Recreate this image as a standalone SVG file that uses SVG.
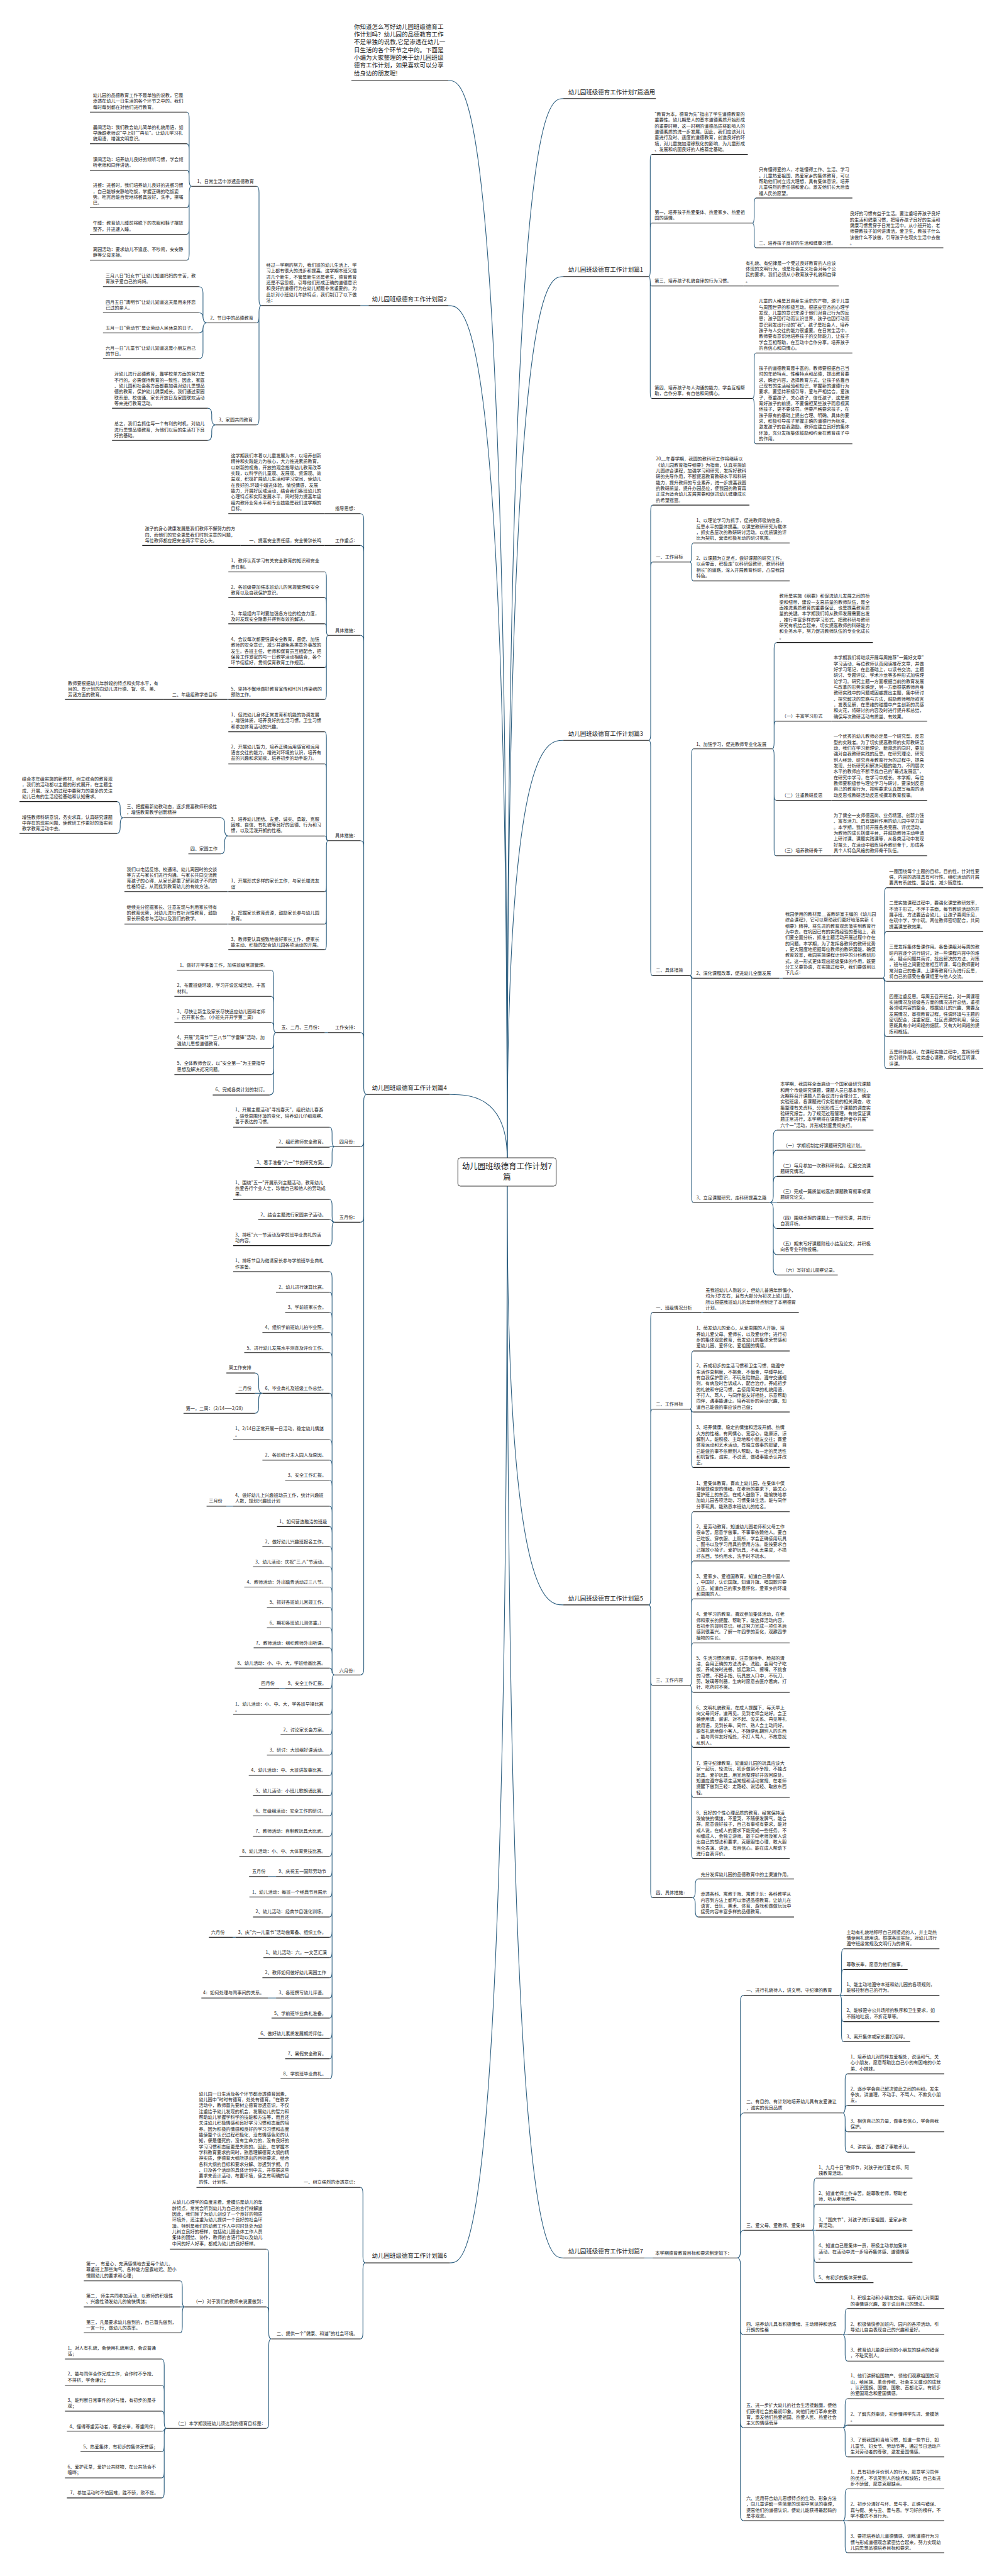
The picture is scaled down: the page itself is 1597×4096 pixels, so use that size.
<svg xmlns="http://www.w3.org/2000/svg" width="1597" height="4096" viewBox="0 0 1597 4096">
<style>
text{font-family:"Noto Sans CJK SC","Noto Sans",sans-serif;fill:#222}
.t{font-size:7.2px}
.p{font-size:9.5px}
.c{font-size:12.4px}
.u{stroke:#1b1b1b;stroke-width:1.1;fill:none}
.k{stroke:#2d5f80;stroke-width:1.1;fill:none}
</style>
<rect width="1597" height="4096" fill="#fff"/>
<g id="connectors">
<path class="k" d="M806.7 1841C806.7 128 741.1 128 713 128"/>
<path class="k" d="M806.7 1841C806.7 485.9 741.1 485.9 713 485.9"/>
<path class="k" d="M806.7 1841C806.7 1740.2 742.9 1740.2 715.5 1740.2"/>
<path class="k" d="M806.7 1841C806.7 156.8 869.3 156.8 896.1 156.8"/>
<path class="k" d="M806.7 1841C806.7 439.7 869.3 439.7 896.1 439.7"/>
<path class="k" d="M806.7 1841C806.7 1177.2 869.3 1177.2 896.1 1177.2"/>
<path class="k" d="M806.7 1886C806.7 2551.9 869.3 2551.9 896.1 2551.9"/>
<path class="k" d="M806.7 1886C806.7 3598.1 742.9 3598.1 715.5 3598.1"/>
<path class="k" d="M806.7 1886C806.7 3590.2 869.3 3590.2 896.1 3590.2"/>
<path class="k" d="M586.3 485.9H573.4"/>
<path class="k" d="M415.9 485.9Q412 485.9 412 475.9V306.2Q412 296.2 408.1 296.2M415.9 485.9Q412 485.9 412 495.9V503.3Q412 513.3 408.1 513.3M415.9 485.9Q412 485.9 412 495.9V665.6Q412 675.6 408.1 675.6"/>
<path class="k" d="M304.8 296.2Q300.9 296.2 300.9 286.2V188.3Q300.9 178.3 297 178.3M300.9 238.6Q300.9 228.6 297 228.6M300.9 280.6Q300.9 270.6 297 270.6M304.8 296.2Q300.9 296.2 300.9 306.2V403.7Q300.9 413.7 297 413.7M300.9 320Q300.9 330 297 330M300.9 362.5Q300.9 372.5 297 372.5"/>
<path class="k" d="M329.6 513.3Q322.9 513.3 322.9 503.3V465.7Q322.9 455.7 316.2 455.7M322.9 505.3Q322.9 497.3 316.2 497.3M329.6 513.3Q322.9 513.3 322.9 523.3V560.5Q322.9 570.5 316.2 570.5M322.9 521.3Q322.9 529.3 316.2 529.3"/>
<path class="k" d="M343 675.6Q336.8 675.6 336.8 665.6V659.1Q336.8 649.1 330.6 649.1M343 675.6Q336.8 675.6 336.8 685.6V690.3Q336.8 700.3 330.6 700.3"/>
<path class="k" d="M1031.9 439.7Q1034.3 439.7 1034.3 429.7V255.5Q1034.3 245.5 1036.6 245.5M1034.3 364.7Q1034.3 354.7 1036.6 354.7M1031.9 439.7Q1034.3 439.7 1034.3 449.7V623.5Q1034.3 633.5 1036.6 633.5M1034.3 447.2Q1034.3 454.8 1036.6 454.8"/>
<path class="k" d="M1196.7 354.7Q1199.6 354.7 1199.6 344.7V324.9Q1199.6 314.9 1202.4 314.9M1196.7 354.7Q1199.6 354.7 1199.6 364.7V384Q1199.6 394 1202.4 394"/>
<path class="k" d="M1196.7 633.5Q1199.6 633.5 1199.6 623.5V571.3Q1199.6 561.3 1202.4 561.3M1196.7 633.5Q1199.6 633.5 1199.6 643.5V695.8Q1199.6 705.8 1202.4 705.8"/>
<path class="k" d="M1031.9 1177.2Q1035 1177.2 1035 1167.2V813.1Q1035 803.1 1038.1 803.1M1035 903.6Q1035 893.6 1038.1 893.6M1031.9 1177.2Q1035 1177.2 1035 1187.2V1541.4Q1035 1551.4 1038.1 1551.4"/>
<path class="k" d="M1097.5 893.6Q1100.1 893.6 1100.1 883.6V873.4Q1100.1 863.4 1102.7 863.4M1097.5 893.6Q1100.1 893.6 1100.1 903.6V913.7Q1100.1 923.7 1102.7 923.7"/>
<path class="k" d="M1097.5 1551.4Q1100.1 1551.4 1100.1 1541.4V1200.7Q1100.1 1190.7 1102.7 1190.7M1097.5 1551.4Q1100.1 1551.4 1100.1 1553.4Q1100.1 1555.4 1102.7 1555.4M1097.5 1551.4Q1100.1 1551.4 1100.1 1561.4V1902Q1100.1 1912 1102.7 1912"/>
<path class="k" d="M1228.2 1190.7Q1231.3 1190.7 1231.3 1180.7V1031.6Q1231.3 1021.6 1235.5 1021.6M1231.3 1156.6Q1231.3 1146.6 1234.4 1146.6M1228.2 1190.7Q1231.3 1190.7 1231.3 1200.7V1350.7Q1231.3 1360.7 1234.4 1360.7M1231.3 1262.5Q1231.3 1272.5 1234.4 1272.5"/>
<path class="k" d="M1239.6 1555.4H1244.8"/>
<path class="k" d="M1403.9 1555.4Q1407 1555.4 1407 1545.4V1421.6Q1407 1411.6 1410.1 1411.6M1407 1491.1Q1407 1481.1 1410.1 1481.1M1403.9 1555.4Q1407 1555.4 1407 1557.8Q1407 1560.2 1410.1 1560.2M1403.9 1555.4Q1407 1555.4 1407 1565.4V1689.1Q1407 1699.1 1410.1 1699.1M1407 1638.5Q1407 1648.5 1410.1 1648.5"/>
<path class="k" d="M1224.1 1912Q1230 1912 1230 1902V1807Q1230 1797 1236 1797M1230 1838.9Q1230 1828.9 1236 1828.9M1230 1880.4Q1230 1870.4 1236 1870.4M1224.1 1912H1236M1224.1 1912Q1230 1912 1230 1922V2017.3Q1230 2027.3 1236 2027.3M1230 1943.5Q1230 1953.5 1236 1953.5M1230 1985Q1230 1995 1236 1995"/>
<path class="k" d="M583.8 1740.2Q578.6 1740.2 578.6 1730.2V826.7Q578.6 816.7 573.4 816.7M578.6 877.4Q578.6 867.4 573.4 867.4M578.6 1020.3Q578.6 1010.3 573.4 1010.3M578.6 1346.7Q578.6 1336.7 573.4 1336.7M578.6 1651.9Q578.6 1641.9 573.4 1641.9M583.8 1740.2Q578.6 1740.2 578.6 1750.2V2653.3Q578.6 2663.3 573.4 2663.3M578.6 1813.3Q578.6 1823.3 573.4 1823.3M578.6 1933.4Q578.6 1943.4 573.4 1943.4"/>
<path class="k" d="M521.8 1010.3Q519.2 1010.3 519.2 1000.3V919.3Q519.2 909.3 516.6 909.3M519.2 960.4Q519.2 950.4 516.6 950.4M519.2 1001.1Q519.2 991.9 516.6 991.9M521.8 1010.3Q519.2 1010.3 519.2 1020.3V1102.1Q519.2 1112.1 516.6 1112.1M519.2 1051.4Q519.2 1061.4 516.6 1061.4"/>
<path class="k" d="M363.2 1112.1H361.6M363.2 1417.7H361.6M363.2 1469.3H361.6M521.8 1641.9H516.6"/>
<path class="k" d="M521.8 1336.7Q519.2 1336.7 519.2 1326.7V1173.6Q519.2 1163.6 516.6 1163.6M519.2 1224.8Q519.2 1214.8 516.6 1214.8M521.8 1336.7Q519.2 1336.7 519.2 1333Q519.2 1329.3 516.6 1329.3M521.8 1336.7Q519.2 1336.7 519.2 1346.7V1499.9Q519.2 1509.9 516.6 1509.9M519.2 1407.7Q519.2 1417.7 516.6 1417.7M519.2 1459.3Q519.2 1469.3 516.6 1469.3"/>
<path class="k" d="M363.2 1329.3Q357.3 1329.3 357.3 1319.3V1310.4Q357.3 1300.4 351.3 1300.4M363.2 1329.3Q357.3 1329.3 357.3 1339.3V1347.7Q357.3 1357.7 351.3 1357.7"/>
<path class="k" d="M196.3 1300.4Q191.2 1300.4 191.2 1290.4V1284.6Q191.2 1274.6 186 1274.6M196.3 1300.4Q191.2 1300.4 191.2 1310.4V1315.3Q191.2 1325.3 186 1325.3"/>
<path class="k" d="M439.1 1641.9Q435.3 1641.9 435.3 1631.9V1552.7Q435.3 1542.7 431.4 1542.7M435.3 1594.2Q435.3 1584.2 431.4 1584.2M435.3 1633.8Q435.3 1625.7 431.4 1625.7M439.1 1641.9Q435.3 1641.9 435.3 1651.9V1731.1Q435.3 1741.1 428.8 1741.1M435.3 1657.2Q435.3 1667.2 431.4 1667.2M435.3 1698.8Q435.3 1708.8 431.4 1708.8"/>
<path class="k" d="M532.1 1823.3Q528.2 1823.3 528.2 1813.3V1802.2Q528.2 1792.2 524.3 1792.2M532.1 1823.3H524.3M532.1 1823.3Q528.2 1823.3 528.2 1833.3V1846.5Q528.2 1856.5 524.3 1856.5"/>
<path class="k" d="M532.1 1943.4Q528.2 1943.4 528.2 1933.4V1917.2Q528.2 1907.2 524.3 1907.2M532.1 1943.4Q528.2 1943.4 528.2 1941.5Q528.2 1939.5 524.3 1939.5M532.1 1943.4Q528.2 1943.4 528.2 1953.4V1970.6Q528.2 1980.6 524.3 1980.6"/>
<path class="k" d="M532.1 2663.3Q528.2 2663.3 528.2 2653.3V2032.1Q528.2 2022.1 524.3 2022.1M528.2 2064.6Q528.2 2054.6 524.3 2054.6M528.2 2096.5Q528.2 2086.5 524.3 2086.5M528.2 2128.8Q528.2 2118.8 524.3 2118.8M528.2 2160.7Q528.2 2150.7 524.3 2150.7M528.2 2225.4Q528.2 2215.4 524.3 2215.4M528.2 2299.3Q528.2 2289.3 524.3 2289.3M528.2 2331.6Q528.2 2321.6 524.3 2321.6M528.2 2363.5Q528.2 2353.5 524.3 2353.5M528.2 2405Q528.2 2395 524.3 2395M528.2 2437.4Q528.2 2427.4 524.3 2427.4M528.2 2469.3Q528.2 2459.3 524.3 2459.3M528.2 2501.2Q528.2 2491.2 524.3 2491.2M528.2 2533.5Q528.2 2523.5 524.3 2523.5M528.2 2565.8Q528.2 2555.8 524.3 2555.8M528.2 2598.2Q528.2 2588.2 524.3 2588.2M528.2 2630.1Q528.2 2620.1 524.3 2620.1M528.2 2660Q528.2 2652.4 524.3 2652.4M532.1 2663.3Q528.2 2663.3 528.2 2673.3V3295.5Q528.2 3305.5 524.3 3305.5M528.2 2675Q528.2 2684.8 524.3 2684.8M528.2 2716Q528.2 2726 524.3 2726M528.2 2748.3Q528.2 2758.3 524.3 2758.3M528.2 2780.7Q528.2 2790.7 524.3 2790.7M528.2 2813Q528.2 2823 524.3 2823M528.2 2844.9Q528.2 2854.9 524.3 2854.9M528.2 2877.3Q528.2 2887.3 524.3 2887.3M528.2 2909.6Q528.2 2919.6 524.3 2919.6M528.2 2941.5Q528.2 2951.5 524.3 2951.5M528.2 2973.8Q528.2 2983.8 524.3 2983.8M528.2 3006.2Q528.2 3016.2 524.3 3016.2M528.2 3038.1Q528.2 3048.1 524.3 3048.1M528.2 3070.4Q528.2 3080.4 524.3 3080.4M528.2 3102.7Q528.2 3112.7 524.3 3112.7M528.2 3134.7Q528.2 3144.7 524.3 3144.7M528.2 3167Q528.2 3177 524.3 3177M528.2 3198.9Q528.2 3208.9 524.3 3208.9M528.2 3231.2Q528.2 3241.2 524.3 3241.2M528.2 3263.6Q528.2 3273.6 524.3 3273.6"/>
<path class="k" d="M417.4 2215.4Q411.5 2215.4 411.5 2205.4V2193.1Q411.5 2183.1 405.5 2183.1M417.4 2215.4H405.5M417.4 2215.4Q411.5 2215.4 411.5 2225.4V2237.3Q411.5 2247.3 405.5 2247.3"/>
<path class="k" d="M370.9 2395H360.1M453.6 2684.8H444.3M439.1 2983.8H426.2M374.5 3080.4H370M439.1 3177H426.2"/>
<path class="k" d="M581.2 3598.1Q577.3 3598.1 577.3 3588.1V3488.1Q577.3 3478.1 573.4 3478.1M581.2 3598.1Q577.3 3598.1 577.3 3608.1V3709Q577.3 3719 573.4 3719"/>
<path class="k" d="M431.4 3719Q427.5 3719 427.5 3709V3586.3Q427.5 3576.3 423.6 3576.3M427.5 3678.1Q427.5 3668.1 423.6 3668.1M431.4 3719Q427.5 3719 427.5 3729V3851.2Q427.5 3861.2 423.6 3861.2"/>
<path class="k" d="M293.4 3668.1Q290 3668.1 290 3658.1V3636.8Q290 3626.8 286.7 3626.8M293.4 3668.1H286.7M293.4 3668.1Q290 3668.1 290 3678.1V3699.3Q290 3709.3 286.7 3709.3"/>
<path class="k" d="M265 3861.2Q261.2 3861.2 261.2 3851.2V3761Q261.2 3751 257.3 3751M261.2 3802.7Q261.2 3792.7 257.3 3792.7M261.2 3843.9Q261.2 3833.9 257.3 3833.9M265 3861.2Q261.2 3861.2 261.2 3863.5Q261.2 3865.8 257.3 3865.8M265 3861.2Q261.2 3861.2 261.2 3871.2V3961.9Q261.2 3971.9 257.3 3971.9M261.2 3888.3Q261.2 3898.3 257.3 3898.3M261.2 3930Q261.2 3940 257.3 3940"/>
<path class="k" d="M1031.9 2551.9Q1035 2551.9 1035 2541.9V2096.9Q1035 2086.9 1038.1 2086.9M1035 2250.8Q1035 2240.8 1038.1 2240.8M1031.9 2551.9Q1035 2551.9 1035 2561.9V3007.5Q1035 3017.5 1038.1 3017.5M1035 2670Q1035 2680 1038.1 2680"/>
<path class="k" d="M1115.6 2086.9H1118.2M1025.2 3590.2H1038.1"/>
<path class="k" d="M1097.5 2240.8Q1100.1 2240.8 1100.1 2230.8V2158.1Q1100.1 2148.1 1102.7 2148.1M1097.5 2240.8Q1100.1 2240.8 1100.1 2243Q1100.1 2245.1 1102.7 2245.1M1097.5 2240.8Q1100.1 2240.8 1100.1 2250.8V2323.4Q1100.1 2333.4 1102.7 2333.4"/>
<path class="k" d="M1097.5 2680Q1100.1 2680 1100.1 2670V2413.8Q1100.1 2403.8 1102.7 2403.8M1100.1 2492Q1100.1 2482 1102.7 2482M1100.1 2552.3Q1100.1 2542.3 1102.7 2542.3M1100.1 2622.2Q1100.1 2612.2 1102.7 2612.2M1097.5 2680Q1100.1 2680 1100.1 2690V2945.4Q1100.1 2955.4 1102.7 2955.4M1100.1 2685Q1100.1 2690.9 1102.7 2690.9M1100.1 2768.4Q1100.1 2778.4 1102.7 2778.4M1100.1 2848Q1100.1 2858 1102.7 2858"/>
<path class="k" d="M1101.2 3017.5Q1105.9 3017.5 1105.9 3007.5V2997.8Q1105.9 2987.8 1110.5 2987.8M1101.2 3017.5Q1105.9 3017.5 1105.9 3027.5V3038.1Q1105.9 3048.1 1110.5 3048.1"/>
<path class="k" d="M1172.5 3590.2Q1177.7 3590.2 1177.7 3580.2V3182.6Q1177.7 3172.6 1182.8 3172.6M1177.7 3369.7Q1177.7 3359.7 1182.8 3359.7M1177.7 3556.2Q1177.7 3546.2 1182.8 3546.2M1172.5 3590.2Q1177.7 3590.2 1177.7 3600.2V3998Q1177.7 4008 1182.8 4008M1177.7 3702.5Q1177.7 3712.5 1182.8 3712.5M1177.7 3850.3Q1177.7 3860.3 1182.8 3860.3"/>
<path class="k" d="M1335.2 3172.6Q1338.6 3172.6 1338.6 3162.6V3108.8Q1338.6 3098.8 1341.9 3098.8M1338.6 3141.5Q1338.6 3131.5 1341.9 3131.5M1335.2 3172.6H1341.9M1335.2 3172.6Q1338.6 3172.6 1338.6 3182.6V3236.5Q1338.6 3246.5 1341.9 3246.5M1338.6 3204.6Q1338.6 3214.6 1341.9 3214.6"/>
<path class="k" d="M1340.4 3359.7Q1344.3 3359.7 1344.3 3349.7V3307.6Q1344.3 3297.6 1348.1 3297.6M1344.3 3353.8Q1344.3 3347.9 1348.1 3347.9M1340.4 3359.7Q1344.3 3359.7 1344.3 3369.7V3412.1Q1344.3 3422.1 1348.1 3422.1M1344.3 3379.7Q1344.3 3389.7 1348.1 3389.7"/>
<path class="k" d="M1291.3 3546.2Q1294.7 3546.2 1294.7 3536.2V3473.3Q1294.7 3463.3 1298 3463.3M1294.7 3515Q1294.7 3505 1298 3505M1291.3 3546.2H1298M1291.3 3546.2Q1294.7 3546.2 1294.7 3556.2V3619.6Q1294.7 3629.6 1298 3629.6M1294.7 3587.2Q1294.7 3597.2 1298 3597.2"/>
<path class="k" d="M1340.4 3712.5Q1344.3 3712.5 1344.3 3702.5V3680.8Q1344.3 3670.8 1348.1 3670.8M1340.4 3712.5H1348.1M1340.4 3712.5Q1344.3 3712.5 1344.3 3722.5V3744.2Q1344.3 3754.2 1348.1 3754.2"/>
<path class="k" d="M1340.4 3860.3Q1344.3 3860.3 1344.3 3850.3V3824Q1344.3 3814 1348.1 3814M1340.4 3860.3Q1344.3 3860.3 1344.3 3858.2Q1344.3 3856.1 1348.1 3856.1M1340.4 3860.3Q1344.3 3860.3 1344.3 3870.3V3896.6Q1344.3 3906.6 1348.1 3906.6"/>
<path class="k" d="M1340.4 4008Q1344.3 4008 1344.3 3998V3967.5Q1344.3 3957.5 1348.1 3957.5M1340.4 4008H1348.1M1340.4 4008Q1344.3 4008 1344.3 4018V4049Q1344.3 4059 1348.1 4059"/>
</g>
<g id="center"><rect x="728.3" y="1841" width="156.4" height="45" rx="4" fill="#fff" stroke="#333" stroke-width="1"/><text class="c" x="806.5" y="1859.1" text-anchor="middle">幼儿园班级德育工作计划7</text><text class="c" x="806.5" y="1875.7" text-anchor="middle">篇</text></g>
<g id="intro"><text class="p" x="563" y="45.5">你知道怎么写好幼儿园班级德育工<tspan x="563" dy="12.34">作计划吗？幼儿园的品德教育工作</tspan><tspan x="563" dy="12.34">不是单独的说教,它是渗透在幼儿一</tspan><tspan x="563" dy="12.34">日生活的各个环节之中的。下面是</tspan><tspan x="563" dy="12.34">小编为大家整理的关于幼儿园班级</tspan><tspan x="563" dy="12.34">德育工作计划，如果喜欢可以分享</tspan><tspan x="563" dy="12.34">给身边的朋友喔!</tspan></text><path class="u" d="M559 128H713"/></g>
<g id="topic0"><text class="p" x="903.8" y="149.7">幼儿园班级德育工作计划7篇通用</text><path class="u" d="M896.1 156.8H1043.3"/></g>
<g id="topic1"><text class="p" x="903.8" y="432.2">幼儿园班级德育工作计划篇1</text><path class="u" d="M896.1 439.7H1031.9"/></g>
<g id="topic2"><text class="p" x="591.5" y="478.8">幼儿园班级德育工作计划篇2</text><path class="u" d="M586.3 485.9H713"/></g>
<g id="topic3"><text class="p" x="903.8" y="1169.7">幼儿园班级德育工作计划篇3</text><path class="u" d="M896.1 1177.2H1031.9"/></g>
<g id="topic4"><text class="p" x="591.5" y="1732.7">幼儿园班级德育工作计划篇4</text><path class="u" d="M583.8 1740.2H715.5"/></g>
<g id="topic5"><text class="p" x="903.8" y="2544.8">幼儿园班级德育工作计划篇5</text><path class="u" d="M896.1 2551.9H1031.9"/></g>
<g id="topic6"><text class="p" x="591.5" y="3589.9">幼儿园班级德育工作计划篇6</text><path class="u" d="M581.2 3598.1H715.5"/></g>
<g id="topic7"><text class="p" x="903.8" y="3583">幼儿园班级德育工作计划篇7</text><path class="u" d="M896.1 3590.2H1025.2"/></g>

<g id="p2">
<g id="p2-a"><text class="t" x="423.6" y="424">经过一学期的努力，我们班的幼儿生活上、学<tspan x="423.6" dy="9.33">习上都有很大的进步和提高。这学期本班又插</tspan><tspan x="423.6" dy="9.33">进几个新生，不管是新生还是老生，德育教育</tspan><tspan x="423.6" dy="9.33">还是不容忽视，引导他们形成正确的道德意识</tspan><tspan x="423.6" dy="9.33">和良好的道德行为在幼儿期是非常重要的。为</tspan><tspan x="423.6" dy="9.33">此针对小班幼儿年龄特点，我们制订了以下做</tspan><tspan x="423.6" dy="9.33">法：</tspan></text><path class="u" d="M415.9 485.9H573.4"/></g>
<g id="p2-b"><text class="t" x="313.6" y="290.6">1、日常生活中渗透品德教育</text><path class="u" d="M304.8 296.2H408.1"/></g>
<g id="p2-c"><text class="t" x="334.2" y="507.7">2、节日中的品德教育</text><path class="u" d="M329.6 513.3H408.1"/></g>
<g id="p2-d"><text class="t" x="347.7" y="670">3、家园共同教育</text><path class="u" d="M343 675.6H408.1"/></g>
<g id="p2-e"><text class="t" x="147.7" y="153.9">幼儿园的品德教育工作不是单独的说教，它是<tspan x="147.7" dy="9.33">渗透在幼儿一日生活的各个环节之中的。我们</tspan><tspan x="147.7" dy="9.33">每时每刻都在对他们进行教育。</tspan></text><path class="u" d="M143.1 178.3H297"/></g>
<g id="p2-f"><text class="t" x="147.7" y="204.6">晨间活动：我们教会幼儿简单的礼貌用语，如<tspan x="147.7" dy="9.33">早晚跟老师说"早上好""再见"。让幼儿学习礼</tspan><tspan x="147.7" dy="9.33">貌用语，增强文明意识。</tspan></text><path class="u" d="M143.1 228.6H297"/></g>
<g id="p2-g"><text class="t" x="147.7" y="255.8">课间活动：培养幼儿良好的倾听习惯，学会倾<tspan x="147.7" dy="9.33">听老师和同伴讲话。</tspan></text><path class="u" d="M143.1 270.6H297"/></g>
<g id="p2-h"><text class="t" x="147.7" y="297.4">进餐：进餐时，我们培养幼儿良好的进餐习惯<tspan x="147.7" dy="9.33">，自己能够安静地吃饭，掌握正确的吃饭姿</tspan><tspan x="147.7" dy="9.33">势。吃完后能自觉地将餐具放好，洗手，擦嘴</tspan><tspan x="147.7" dy="9.33">巴。</tspan></text><path class="u" d="M143.1 330H297"/></g>
<g id="p2-i"><text class="t" x="147.7" y="357.3">午睡：教育幼儿睡前将脱下的衣服和鞋子摆放<tspan x="147.7" dy="9.33">整齐，并迅速入睡。</tspan></text><path class="u" d="M143.1 372.5H297"/></g>
<g id="p2-j"><text class="t" x="147.7" y="398.9">离园活动：要求幼儿不追逐、不吵闹，安安静<tspan x="147.7" dy="9.33">静等父母来接。</tspan></text><path class="u" d="M143.1 413.7H297"/></g>
<g id="p2-k"><text class="t" x="167.9" y="441">三月八日"妇女节"让幼儿知道妈妈的辛苦，教<tspan x="167.9" dy="9.33">育孩子爱自己的妈妈。</tspan></text><path class="u" d="M163.8 455.7H316.2"/></g>
<g id="p2-l"><text class="t" x="167.9" y="482.6">四月五日"清明节"让幼儿知道这天是用来怀恋<tspan x="167.9" dy="9.33">已过的亲人。</tspan></text><path class="u" d="M163.8 497.3H316.2"/></g>
<g id="p2-m"><text class="t" x="167.9" y="523.7">五月一日"劳动节"是让劳动人民休息的日子。</text><path class="u" d="M163.8 529.3H316.2"/></g>
<g id="p2-n"><text class="t" x="167.9" y="556.1">六月一日"儿童节"让幼儿知道这是小朋友自己<tspan x="167.9" dy="9.33">的节日。</tspan></text><path class="u" d="M163.8 570.5H316.2"/></g>
<g id="p2-o"><text class="t" x="181.8" y="597.3">对幼儿进行品德教育，靠学校单方面的努力是<tspan x="181.8" dy="9.33">不行的，必需保持教育的一致性。因此，家庭</tspan><tspan x="181.8" dy="9.33">、幼儿园和社会各方面都要加强对幼儿思想品</tspan><tspan x="181.8" dy="9.33">德的教育，保护幼儿健康成长。我们通过家园</tspan><tspan x="181.8" dy="9.33">联系册、校信通、家长开放日及家园联欢活动</tspan><tspan x="181.8" dy="9.33">等来进行教育活动。</tspan></text><path class="u" d="M178.2 649.1H330.6"/></g>
<g id="p2-p"><text class="t" x="181.8" y="676.4">总之，我们会抓住每一个有利的时机，对幼儿<tspan x="181.8" dy="9.33">进行思想品德教育，为他们以后的生活打下良</tspan><tspan x="181.8" dy="9.33">好的基础。</tspan></text><path class="u" d="M178.2 700.3H330.6"/></g>
</g>

<g id="p1">
<g id="p1-a"><text class="t" x="1041.2" y="184.1">"教育为本，德育为先"指出了学生道德教育的<tspan x="1041.2" dy="9.33">重要性。幼儿期是人的基本道德素质开始形成</tspan><tspan x="1041.2" dy="9.33">的重要时期，这一时期的道德品质将影响人的</tspan><tspan x="1041.2" dy="9.33">道德素质的进一步发展。因此，我们应该对儿</tspan><tspan x="1041.2" dy="9.33">童进行及时、适度的道德教育，创造良好的环</tspan><tspan x="1041.2" dy="9.33">境，对儿童施加潜移默化的影响，为儿童形成</tspan><tspan x="1041.2" dy="9.33">、发展和巩固良好的人格奠定基础。</tspan></text><path class="u" d="M1036.6 245.5H1189.5"/></g>
<g id="p1-b"><text class="t" x="1041.2" y="339.9">第一，培养孩子热爱集体、热爱家乡、热爱祖<tspan x="1041.2" dy="9.33">国的感情。</tspan></text><path class="u" d="M1036.6 354.7H1196.7"/></g>
<g id="p1-c"><text class="t" x="1207.1" y="272.3">只有懂得爱的人，才能懂得工作、生活、学习<tspan x="1207.1" dy="9.33">。儿童热爱祖国、热爱家乡的集体教育，可以</tspan><tspan x="1207.1" dy="9.33">帮助他们树立远大理想，具有集体意识，培养</tspan><tspan x="1207.1" dy="9.33">儿童强烈的责任感和爱心。激发他们长大后造</tspan><tspan x="1207.1" dy="9.33">福人民的愿望。</tspan></text><path class="u" d="M1202.4 314.9H1355.8"/></g>
<g id="p1-d"><text class="t" x="1207.1" y="388.8">二、培养孩子良好的生活和健康习惯。</text><path class="u" d="M1202.4 394H1348.1"/></g>
<g id="p1-e"><text class="t" x="1351.7" y="342.2">良好的习惯有益于生活。要注重培养孩子良好<tspan x="1351.7" dy="9.33">的生活和健康习惯，把培养孩子良好的生活和</tspan><tspan x="1351.7" dy="9.33">健康习惯贯穿于日常生活中。从小班开始，老</tspan><tspan x="1351.7" dy="9.33">师要教孩子如何讲清洁，爱卫生，教孩子什么</tspan><tspan x="1351.7" dy="9.33">该做什么不该做，引导孩子在现实生活中去做</tspan><tspan x="1351.7" dy="9.33">。</tspan></text><path class="u" d="M1348.1 394H1500.5"/></g>
<g id="p1-f"><text class="t" x="1041.2" y="449.2">第三，培养孩子礼貌自律的行为习惯。</text><path class="u" d="M1036.6 454.8H1182.8"/></g>
<g id="p1-g"><text class="t" x="1185.9" y="420.8">有礼貌、有纪律是一个受过良好教育的人应该<tspan x="1185.9" dy="9.33">体现的文明行为，也是社会主义社会对每个公</tspan><tspan x="1185.9" dy="9.33">民的要求。我们必须从小教育孩子礼貌和自律</tspan><tspan x="1185.9" dy="9.33">。</tspan></text><path class="u" d="M1182.8 454.8H1334.1"/></g>
<g id="p1-h"><text class="t" x="1041.2" y="618.8">第四，培养孩子与人沟通的能力，学会互相帮<tspan x="1041.2" dy="9.33">助，合作分享，有自信和同情心。</tspan></text><path class="u" d="M1036.6 633.5H1196.7"/></g>
<g id="p1-i"><text class="t" x="1207.1" y="481.2">儿童的人格是其自身生活史的产物，源于儿童<tspan x="1207.1" dy="9.33">与周围世界的积极互动。根据皮亚杰的心理学</tspan><tspan x="1207.1" dy="9.33">发现，儿童的意识来源于他们对自己行为的反</tspan><tspan x="1207.1" dy="9.33">思；孩子因行动而认识世界，孩子也因行动而</tspan><tspan x="1207.1" dy="9.33">意识到发出行动的"我"。孩子是社会人，培养</tspan><tspan x="1207.1" dy="9.33">孩子与人交往的能力很重要。在日常生活中，</tspan><tspan x="1207.1" dy="9.33">教师要有意识地培养孩子的交际能力，让孩子</tspan><tspan x="1207.1" dy="9.33">学会互相帮助，在互动中合作分享，培养孩子</tspan><tspan x="1207.1" dy="9.33">的自信心和同情心。</tspan></text><path class="u" d="M1202.4 561.3H1355.8"/></g>
<g id="p1-j"><text class="t" x="1207.1" y="588.1">孩子的道德教育是丰富的。教师要根据自己当<tspan x="1207.1" dy="9.33">时的年龄特点、性格特点和品德，提出教育要</tspan><tspan x="1207.1" dy="9.33">求，确定内容，选择教育方式，让孩子依靠自</tspan><tspan x="1207.1" dy="9.33">己现有的生活经验和知识，掌握新的道德行为</tspan><tspan x="1207.1" dy="9.33">要求。要坚持积极引导，爱与严相结合。爱孩</tspan><tspan x="1207.1" dy="9.33">子，尊重孩子，关心孩子，信任孩子，这是教</tspan><tspan x="1207.1" dy="9.33">育好孩子的前提。不要偏袒某些孩子而忽视其</tspan><tspan x="1207.1" dy="9.33">他孩子，更不要体罚。但要严格要求孩子，在</tspan><tspan x="1207.1" dy="9.33">孩子原有的基础上提出合理、明确、具体的要</tspan><tspan x="1207.1" dy="9.33">求，积极引导孩子掌握正确的道德行为标准，</tspan><tspan x="1207.1" dy="9.33">激发孩子的自我激励。教师应建立良好的集体</tspan><tspan x="1207.1" dy="9.33">环境，充分发挥集体鼓励和约束在教育孩子中</tspan><tspan x="1207.1" dy="9.33">的作用。</tspan></text><path class="u" d="M1202.4 705.8H1355.8"/></g>
</g>

<g id="p3">
<g id="p3-a"><text class="t" x="1043.3" y="732.3">20__年春学期，我园的教科研工作将继续以<tspan x="1043.3" dy="9.33">《幼儿园教育指导纲要》为指南，认真实施幼</tspan><tspan x="1043.3" dy="9.33">儿园综合课程，加强学习和研究，发挥好教科</tspan><tspan x="1043.3" dy="9.33">研的先导作用，不断提高教育教研水平和科研</tspan><tspan x="1043.3" dy="9.33">能力，提升教师的专业素养，进一步提高我园</tspan><tspan x="1043.3" dy="9.33">的教研质量，提升办园品位，使我园的教育真</tspan><tspan x="1043.3" dy="9.33">正成为适合幼儿发展需要和促进幼儿健康成长</tspan><tspan x="1043.3" dy="9.33">的希望摇篮。</tspan></text><path class="u" d="M1038.1 803.1H1192.1"/></g>
<g id="p3-b"><text class="t" x="1043.3" y="888.3">一、工作目标</text><path class="u" d="M1038.1 893.6H1097.5"/></g>
<g id="p3-c"><text class="t" x="1107.4" y="830.2">1、以理论学习为抓手，促进教师吸纳信息，<tspan x="1107.4" dy="9.33">反思水平的整体提高。以课堂教研研究为载体</tspan><tspan x="1107.4" dy="9.33">，抓实各层次的教研研讨活动。以优质课的评</tspan><tspan x="1107.4" dy="9.33">比为契机，营造积极互动的研讨氛围。</tspan></text><path class="u" d="M1102.7 863.4H1256.1"/></g>
<g id="p3-d"><text class="t" x="1107.4" y="890.1">2、以课题为立足点，做好课题的研究工作。<tspan x="1107.4" dy="9.33">以点带面，积极走"以科研促教研，教研科研</tspan><tspan x="1107.4" dy="9.33">相长"的道路，深入开展教育科研，凸显我园</tspan><tspan x="1107.4" dy="9.33">特色。</tspan></text><path class="u" d="M1102.7 923.7H1256.1"/></g>
<g id="p3-e"><text class="t" x="1043.3" y="1545.3">二、具体措施</text><path class="u" d="M1038.1 1551.4H1097.5"/></g>
<g id="p3-f"><text class="t" x="1107.4" y="1185.5">1、加强学习，促进教师专业化发展</text><path class="u" d="M1102.7 1190.7H1228.2"/></g>
<g id="p3-g"><text class="t" x="1239.6" y="950.4">教师是实施《纲要》和促进幼儿发展之间的桥<tspan x="1239.6" dy="9.33">梁和纽带，建设一支高质量的教师队伍，是全</tspan><tspan x="1239.6" dy="9.33">面推进素质教育的重要保证，也是提高教育质</tspan><tspan x="1239.6" dy="9.33">量的关键。本学期我们将从教师发展需要出发</tspan><tspan x="1239.6" dy="9.33">，推行丰富多样的学习形式，把教科研与教研</tspan><tspan x="1239.6" dy="9.33">研究有机结合起来，切实提高教师的科研能力</tspan><tspan x="1239.6" dy="9.33">和业务水平，努力促进教师队伍的专业化成长</tspan><tspan x="1239.6" dy="9.33">。</tspan></text><path class="u" d="M1235.5 1021.6H1388.4"/></g>
<g id="p3-h"><text class="t" x="1243.7" y="1141.3">（一）丰富学习形式</text><path class="u" d="M1234.4 1146.6H1322.3"/></g>
<g id="p3-i"><text class="t" x="1325.9" y="1048.3">本学期我们将继续开展每周推荐"一篇好文章"<tspan x="1325.9" dy="9.33">学习活动，每位教师认真阅读推荐文章，并做</tspan><tspan x="1325.9" dy="9.33">好学习笔记，在此基础上，以读书交流、主题</tspan><tspan x="1325.9" dy="9.33">研讨、专题评议、学术沙龙等多种形式加强理</tspan><tspan x="1325.9" dy="9.33">论学习。研究主题一方面根据当前的教育发展</tspan><tspan x="1325.9" dy="9.33">与改革的形势来确定，另一方面根据教师自身</tspan><tspan x="1325.9" dy="9.33">教研实践中的问题或困惑提出主题，集中研讨</tspan><tspan x="1325.9" dy="9.33">、探究解决的思路与方法，鼓励教师畅所欲言</tspan><tspan x="1325.9" dy="9.33">，发表见解，在思维的碰撞中产生创新的灵感</tspan><tspan x="1325.9" dy="9.33">和火花，将研讨的内容及时进行提升和总结，</tspan><tspan x="1325.9" dy="9.33">确保每次教研活动有质量、有效果。</tspan></text><path class="u" d="M1322.3 1146.6H1474.7"/></g>
<g id="p3-j"><text class="t" x="1243.7" y="1267.2">（二）注重教研反思</text><path class="u" d="M1234.4 1272.5H1322.3"/></g>
<g id="p3-k"><text class="t" x="1325.9" y="1173.2">一个优秀的幼儿教师必定是一个研究型、反思<tspan x="1325.9" dy="9.33">型的实践者。为了切实提高教师的实际教研活</tspan><tspan x="1325.9" dy="9.33">动，我们在学习新理论、新观念的同时，要加</tspan><tspan x="1325.9" dy="9.33">强对自我教研实践的反思。在研究理论、研究</tspan><tspan x="1325.9" dy="9.33">别人经验、研究自身教育行为的过程中，提高</tspan><tspan x="1325.9" dy="9.33">发现、分析研究和解决问题的能力。不同层次</tspan><tspan x="1325.9" dy="9.33">水平的教师应不断寻找自己的"最近发展区"，</tspan><tspan x="1325.9" dy="9.33">在研究中学习，在学习中成长。本学期，每位</tspan><tspan x="1325.9" dy="9.33">教师要积极参与理论学习与研讨，要深刻反思</tspan><tspan x="1325.9" dy="9.33">自己的教育行为，按照要求认真撰写每周的活</tspan><tspan x="1325.9" dy="9.33">动反思或教研活动反思或撰写教育叙事。</tspan></text><path class="u" d="M1322.3 1272.5H1474.7"/></g>
<g id="p3-l"><text class="t" x="1243.7" y="1355">（三）培养教研骨干</text><path class="u" d="M1234.4 1360.7H1322.3"/></g>
<g id="p3-m"><text class="t" x="1325.9" y="1299.1">为了健全一支师德高尚、业务精湛、创新力强<tspan x="1325.9" dy="9.33">、富有活力、具有辐射作用的幼儿园中坚力量</tspan><tspan x="1325.9" dy="9.33">。本学期，我们将开展各类竞赛、评优活动，</tspan><tspan x="1325.9" dy="9.33">为教师的成长搭建平台，并鼓励教师主动申请</tspan><tspan x="1325.9" dy="9.33">上研讨课、课题实践课等，从各类活动中发现</tspan><tspan x="1325.9" dy="9.33">好苗头，在活动中锻炼培养教研骨干，形成各</tspan><tspan x="1325.9" dy="9.33">具个人特色风格的教师骨干队伍。</tspan></text><path class="u" d="M1322.3 1360.7H1474.7"/></g>
<g id="p3-n"><text class="t" x="1107.4" y="1549.7">2、深化课程改革，促进幼儿全面发展</text><path class="u" d="M1102.7 1555.4H1239.6"/></g>
<g id="p3-o"><text class="t" x="1248.9" y="1456.1">我园使用的教材是__省教研室主编的《幼儿园<tspan x="1248.9" dy="9.33">综合课程》，它可以帮助我们更好地落实新《</tspan><tspan x="1248.9" dy="9.33">纲要》精神，将先进的教育观念落实到教育行</tspan><tspan x="1248.9" dy="9.33">为中去。在巩固已有的实践经验的基础上，我</tspan><tspan x="1248.9" dy="9.33">们要全面分析，抓准主题活动开展过程中存在</tspan><tspan x="1248.9" dy="9.33">的问题。本学期，为了发挥各教师的教研优势</tspan><tspan x="1248.9" dy="9.33">，更大限度地挖掘每位教师的教研潜能，确保</tspan><tspan x="1248.9" dy="9.33">教育效率，我园实施课程计划中的分科教研形</tspan><tspan x="1248.9" dy="9.33">式，这一形式更体现出班级集体的作用，既要</tspan><tspan x="1248.9" dy="9.33">分工又要协调，在实施过程中，我们要做到以</tspan><tspan x="1248.9" dy="9.33">下几点：</tspan></text><path class="u" d="M1244.8 1555.4H1403.9"/></g>
<g id="p3-p"><text class="t" x="1414.2" y="1387.6">一是围绕每个主题的目标，目的性，针对性要<tspan x="1414.2" dy="9.33">强，内容的选择具有可行性。组织活动的开展</tspan><tspan x="1414.2" dy="9.33">要具有系统性、整合性，减少随意性。</tspan></text><path class="u" d="M1410.1 1411.6H1564"/></g>
<g id="p3-q"><text class="t" x="1414.2" y="1438.2">二是实施课程过程中，要强化课堂教研效率，<tspan x="1414.2" dy="9.33">不流于形式，不浮于表面，每节教研活动的开</tspan><tspan x="1414.2" dy="9.33">展手段、方法要适合幼儿，让孩子喜闻乐见，</tspan><tspan x="1414.2" dy="9.33">在玩中学，学中玩。两位教师密切配合，共同</tspan><tspan x="1414.2" dy="9.33">提高课堂教效果。</tspan></text><path class="u" d="M1410.1 1481.1H1564"/></g>
<g id="p3-r"><text class="t" x="1414.2" y="1508.2">三是发挥集体备课作用。各备课组对每周的教<tspan x="1414.2" dy="9.33">研内容逐个进行研讨，对一些课程内容中的难</tspan><tspan x="1414.2" dy="9.33">点、疑点问题共商讨，找出解决的方法、对策</tspan><tspan x="1414.2" dy="9.33">，班与班之间要经常相互听课，每位教师要时</tspan><tspan x="1414.2" dy="9.33">常对自己的备课、上课等教育行为进行反思，</tspan><tspan x="1414.2" dy="9.33">将自己的感受在备课组里与他人交流。</tspan></text><path class="u" d="M1410.1 1560.2H1564"/></g>
<g id="p3-s"><text class="t" x="1414.2" y="1586.8">四是注重反思。每周五召开班会，对一周课程<tspan x="1414.2" dy="9.33">实施情况及班级各方面的情况进行总结，重视</tspan><tspan x="1414.2" dy="9.33">各领域内容的整合，根据幼儿的兴趣、需要及</tspan><tspan x="1414.2" dy="9.33">发展情况，审视教育过程，强调环境与主题的</tspan><tspan x="1414.2" dy="9.33">密切配合，注重家庭、社区资源的利用，使反</tspan><tspan x="1414.2" dy="9.33">思既具有小时间段的细腻，又有大时间段的提</tspan><tspan x="1414.2" dy="9.33">炼和概括。</tspan></text><path class="u" d="M1410.1 1648.5H1564"/></g>
<g id="p3-t"><text class="t" x="1414.2" y="1675.1">五是师徒结对。在课程实施过程中，发挥师傅<tspan x="1414.2" dy="9.33">的引领作用，徒弟虚心请教，师徒相互听课、</tspan><tspan x="1414.2" dy="9.33">评课。</tspan></text><path class="u" d="M1410.1 1699.1H1564"/></g>
<g id="p3-u"><text class="t" x="1107.4" y="1906.7">3、立足课题研究，走科研提高之路</text><path class="u" d="M1102.7 1912H1224.1"/></g>
<g id="p3-v"><text class="t" x="1241.2" y="1726.2">本学期，我园将全面启动一个国家级研究课题<tspan x="1241.2" dy="9.33">和两个市级研究课题，课题人员已基本到位，</tspan><tspan x="1241.2" dy="9.33">近期将召开课题人员会议进行合理分工，确定</tspan><tspan x="1241.2" dy="9.33">实验班级，各课题进行实验前的相关调查，收</tspan><tspan x="1241.2" dy="9.33">集整理有关资料，分别形成三个课题的调查实</tspan><tspan x="1241.2" dy="9.33">验研究报告。为了规范过程管理，有效保证课</tspan><tspan x="1241.2" dy="9.33">题正常进行，本学期将在课题承担者中开展"</tspan><tspan x="1241.2" dy="9.33">六个一"活动，并形成制度贯彻执行。</tspan></text><path class="u" d="M1236 1797H1389.4"/></g>
<g id="p3-w"><text class="t" x="1245.8" y="1823.7">（一）学期初制定好课题研究阶段计划。</text><path class="u" d="M1236 1828.9H1376.5"/></g>
<g id="p3-x"><text class="t" x="1241.2" y="1855.6">（二）每月参加一次教科研例会，汇报交流课<tspan x="1241.2" dy="9.33">题研究情况。</tspan></text><path class="u" d="M1236 1870.4H1389.4"/></g>
<g id="p3-y"><text class="t" x="1241.2" y="1897.1">（三）完成一篇质量较高的课题教育叙事或课<tspan x="1241.2" dy="9.33">题研究论文。</tspan></text><path class="u" d="M1236 1912H1389.4"/></g>
<g id="p3-z"><text class="t" x="1241.2" y="1938.6">（四）围绕承担的课题上一节研究课，并进行<tspan x="1241.2" dy="9.33">自我评析。</tspan></text><path class="u" d="M1236 1953.5H1389.4"/></g>
<g id="p3-aa"><text class="t" x="1241.2" y="1980.1">（五）期末写好课题阶段小结及论文，并积极<tspan x="1241.2" dy="9.33">向各专业刊物投稿。</tspan></text><path class="u" d="M1236 1995H1389.4"/></g>
<g id="p3-ab"><text class="t" x="1245.8" y="2021.6">（六）写好幼儿观察记录。</text><path class="u" d="M1236 2027.3H1332.6"/></g>
</g>

<g id="p4">
<g id="p4-a"><text class="t" x="533.1" y="811.4">指导思想：</text><path class="u" d="M516.6 816.7H573.4"/></g>
<g id="p4-b"><text class="t" x="367.3" y="727.1">这学期我们本着以儿童发展为本，以培养创新<tspan x="367.3" dy="9.33">精神和实践能力为核心，大力推进素质教育，</tspan><tspan x="367.3" dy="9.33">以崭新的视角，开放的观念指导幼儿教育改革</tspan><tspan x="367.3" dy="9.33">实践，以科学的儿童观、发展观、资源观、效</tspan><tspan x="367.3" dy="9.33">益观，积极扩展幼儿生活和学习空间，使幼儿</tspan><tspan x="367.3" dy="9.33">在良好的.环境中增进体验，愉悦情感，发展</tspan><tspan x="367.3" dy="9.33">能力，开展好区域活动，结合我们各班幼儿的</tspan><tspan x="367.3" dy="9.33">心理特点和实际发展水平，同时努力提高年级</tspan><tspan x="367.3" dy="9.33">组内教师业务水平和专业技能是我们这学期的</tspan><tspan x="367.3" dy="9.33">目标。</tspan></text><path class="u" d="M363.2 816.7H516.6"/></g>
<g id="p4-c"><text class="t" x="533.1" y="862.1">工作重点：</text><path class="u" d="M516.6 867.4H573.4"/></g>
<g id="p4-d"><text class="t" x="396.2" y="862.1">一、提高安全责任感，安全警钟长鸣</text><path class="u" d="M382.3 867.4H516.6"/></g>
<g id="p4-e"><text class="t" x="230.4" y="843.3">孩子的身心健康发展是我们教师不懈努力的方<tspan x="230.4" dy="9.33">向，而他们的安全更是我们时刻注意的问题，</tspan><tspan x="230.4" dy="9.33">每位教师都应把安全两字牢记心头。</tspan></text><path class="u" d="M226.3 867.4H382.3"/></g>
<g id="p4-f"><text class="t" x="533.1" y="1005.4">具体措施：</text><path class="u" d="M521.8 1010.3H573.4"/></g>
<g id="p4-g"><text class="t" x="367.3" y="894.4">1、教师认真学习有关安全教育的知识和安全<tspan x="367.3" dy="9.33">责任制。</tspan></text><path class="u" d="M363.2 909.3H516.6"/></g>
<g id="p4-h"><text class="t" x="367.3" y="935.9">2、各班级要加强本班幼儿的常规管理和安全<tspan x="367.3" dy="9.33">教育以及自我保护意识。</tspan></text><path class="u" d="M363.2 950.4H516.6"/></g>
<g id="p4-i"><text class="t" x="367.3" y="977.5">3、年级组内平时要加强各方位的检查力度，<tspan x="367.3" dy="9.33">及时发现安全隐患并得到有效的解决。</tspan></text><path class="u" d="M363.2 991.9H516.6"/></g>
<g id="p4-j"><text class="t" x="367.3" y="1019">4、会议每次都要强调安全教育，督促、加强<tspan x="367.3" dy="9.33">教师的安全意识，减少并避免各类意外事故的</tspan><tspan x="367.3" dy="9.33">发生。各班主任，老师和保育员互相配合，把</tspan><tspan x="367.3" dy="9.33">保育工作紧密的与一日教学活动相结合，各个</tspan><tspan x="367.3" dy="9.33">环节衔接好，贯彻保育教育工作规范。</tspan></text><path class="u" d="M363.2 1061.4H516.6"/></g>
<g id="p4-k"><text class="t" x="367.3" y="1097.6">5、坚持不懈地做好教育宣传和H1N1传染病的<tspan x="367.3" dy="9.33">预防工作。</tspan></text><path class="u" d="M363.2 1112.1H516.6"/></g>
<g id="p4-l"><text class="t" x="273.8" y="1106.8">二、年级组教学总目标</text><path class="u" d="M260.9 1112.1H361.6"/></g>
<g id="p4-m"><text class="t" x="108" y="1088.5">教师要根据幼儿年龄段的特点和实际水平，有<tspan x="108" dy="9.33">目的、有计划的向幼儿进行德、智、体、美、</tspan><tspan x="108" dy="9.33">劳诸方面的教育。</tspan></text><path class="u" d="M103.3 1112.1H260.9"/></g>
<g id="p4-n"><text class="t" x="533.1" y="1331">具体措施：</text><path class="u" d="M521.8 1336.7H573.4"/></g>
<g id="p4-o"><text class="t" x="367.3" y="1139.1">1、促进幼儿身体正常发育和机能的协调发展<tspan x="367.3" dy="9.33">，增强体质，培养良好的生活习惯，卫生习惯</tspan><tspan x="367.3" dy="9.33">和参加体育活动的兴趣。</tspan></text><path class="u" d="M363.2 1163.6H516.6"/></g>
<g id="p4-p"><text class="t" x="367.3" y="1189.8">2、开展幼儿智力，培养正确运用感官和运用<tspan x="367.3" dy="9.33">语言交往的能力，增进对环境的认识，培养有</tspan><tspan x="367.3" dy="9.33">益的兴趣和求知欲，培养初步的动手能力。</tspan></text><path class="u" d="M363.2 1214.8H516.6"/></g>
<g id="p4-q"><text class="t" x="367.3" y="1304.8">3、培养幼儿团结、友爱、诚实、勇敢、克服<tspan x="367.3" dy="9.33">困难、自信、有礼貌等良好的品德、行为和习</tspan><tspan x="367.3" dy="9.33">惯，以及活泼开朗的性格。</tspan></text><path class="u" d="M363.2 1329.3H516.6"/></g>
<g id="p4-r"><text class="t" x="201.5" y="1284.7">三、把握最新幼教动态，逐步提高教师积极性<tspan x="201.5" dy="9.33">，增强教育教学创新精神</tspan></text><path class="u" d="M196.3 1300.4H351.3"/></g>
<g id="p4-s"><text class="t" x="35.1" y="1241">结合本年级实施的新教材，树立综合的教育观<tspan x="35.1" dy="9.33">，我们的活动都以主题的形式展开，在主题生</tspan><tspan x="35.1" dy="9.33">成、开展、深入的过程中要努力的更多的关注</tspan><tspan x="35.1" dy="9.33">幼儿已有的生活经验基础和认知需求。</tspan></text><path class="u" d="M31 1274.6H186"/></g>
<g id="p4-t"><text class="t" x="35.1" y="1301.7">增强教师科研意识，务实求真，认真研究课题<tspan x="35.1" dy="9.33">中存在的现实问题，使教研工作更好的落实到</tspan><tspan x="35.1" dy="9.33">教学教育活动中去。</tspan></text><path class="u" d="M31 1325.3H186"/></g>
<g id="p4-u"><text class="t" x="302.7" y="1352.4">四、家园工作</text><path class="u" d="M299.6 1357.7H351.3"/></g>
<g id="p4-v"><text class="t" x="367.3" y="1403.3">1、开展形式多样的家长工作，与家长增进友<tspan x="367.3" dy="9.33">谊</tspan></text><path class="u" d="M363.2 1417.7H516.6"/></g>
<g id="p4-w"><text class="t" x="201.5" y="1384.5">我们以电话反馈、校通讯、幼儿离园时的交谈<tspan x="201.5" dy="9.33">等方式与家长们进行沟通。与家长共同交流教</tspan><tspan x="201.5" dy="9.33">育孩子的心得，从家长那里了解到孩子不同的</tspan><tspan x="201.5" dy="9.33">性格特征，从而找到教育幼儿的有效方法。</tspan></text><path class="u" d="M197.9 1417.7H361.6"/></g>
<g id="p4-x"><text class="t" x="367.3" y="1454">2、挖掘家长教育资源，鼓励家长参与幼儿园<tspan x="367.3" dy="9.33">教育。</tspan></text><path class="u" d="M363.2 1469.3H516.6"/></g>
<g id="p4-y"><text class="t" x="201.5" y="1444.8">继续充分挖掘家长、注意发现与利用家长特有<tspan x="201.5" dy="9.33">的教育优势，对幼儿进行有针对性教育，鼓励</tspan><tspan x="201.5" dy="9.33">家长积极参与活动以及我们的教学。</tspan></text><path class="u" d="M197.9 1469.3H361.6"/></g>
<g id="p4-z"><text class="t" x="367.3" y="1495.5">3、教师要认真细致地做好家长工作，使家长<tspan x="367.3" dy="9.33">能主动、积极的配合幼儿园各项活动的开展。</tspan></text><path class="u" d="M363.2 1509.9H516.6"/></g>
<g id="p4-aa"><text class="t" x="533.1" y="1636.2">工作安排：</text><path class="u" d="M521.8 1641.9H573.4"/></g>
<g id="p4-ab"><text class="t" x="447.4" y="1636.2">五、二月、三月份：</text><path class="u" d="M439.1 1641.9H516.6"/></g>
<g id="p4-ac"><text class="t" x="285.7" y="1537">1、做好开学准备工作，加强班级常规管理。</text><path class="u" d="M281.5 1542.7H431.4"/></g>
<g id="p4-ad"><text class="t" x="281.5" y="1569.3">2、布置班级环境，学习开设区域活动，丰富<tspan x="281.5" dy="9.33">材料。</tspan></text><path class="u" d="M277.4 1584.2H431.4"/></g>
<g id="p4-ae"><text class="t" x="281.5" y="1610.8">3、尽快让新生及家长尽快适应幼儿园和老师<tspan x="281.5" dy="9.33">。召开家长会。（小班先开开学第二周）</tspan></text><path class="u" d="M277.4 1625.7H431.4"/></g>
<g id="p4-af"><text class="t" x="281.5" y="1652.4">4、开展"元宵节""三八节""学雷锋"活动，加<tspan x="281.5" dy="9.33">强幼儿思想道德教育。</tspan></text><path class="u" d="M277.4 1667.2H431.4"/></g>
<g id="p4-ag"><text class="t" x="281.5" y="1693.4">5、全体教师会议，以"安全第一"为主要指导<tspan x="281.5" dy="9.33">思想及解决近况问题。</tspan></text><path class="u" d="M277.4 1708.8H431.4"/></g>
<g id="p4-ah"><text class="t" x="342.5" y="1735.4">6、完成各类计划的制订。</text><path class="u" d="M338.4 1741.1H428.8"/></g>
<g id="p4-ai"><text class="t" x="539.8" y="1818.4">四月份：</text><path class="u" d="M532.1 1823.3H573.4"/></g>
<g id="p4-aj"><text class="t" x="374" y="1767.3">1、开展主题活动"寻找春天"，组织幼儿春游<tspan x="374" dy="9.33">，感受周围环境的变化，培养幼儿仔细观察、</tspan><tspan x="374" dy="9.33">善于表达的习惯。</tspan></text><path class="u" d="M370.9 1792.2H524.3"/></g>
<g id="p4-ak"><text class="t" x="443.2" y="1818.4">2、组织教师安全教育。</text><path class="u" d="M439.1 1824.1H524.3"/></g>
<g id="p4-al"><text class="t" x="408.1" y="1850.8">3、着手准备"六一"节的研究方案。</text><path class="u" d="M404.5 1856.5H524.3"/></g>
<g id="p4-am"><text class="t" x="539.8" y="1938.2">五月份：</text><path class="u" d="M532.1 1943.4H573.4"/></g>
<g id="p4-an"><text class="t" x="374" y="1882.7">1、围绕"五一"开展系列主题活动，教育幼儿<tspan x="374" dy="9.33">热爱各行个业人士，珍惜自己和他人的劳动成</tspan><tspan x="374" dy="9.33">果。</tspan></text><path class="u" d="M370.9 1907.2H524.3"/></g>
<g id="p4-ao"><text class="t" x="414.3" y="1933.8">2、结合主题进行家园亲子活动。</text><path class="u" d="M410.7 1939.5H524.3"/></g>
<g id="p4-ap"><text class="t" x="374" y="1965.7">3、排练"六一节活动及学前班毕业典礼的活<tspan x="374" dy="9.33">动内容。</tspan></text><path class="u" d="M370.9 1980.6H524.3"/></g>
<g id="p4-aq"><text class="t" x="539.8" y="2658.5">六月份：</text><path class="u" d="M532.1 2663.3H573.4"/></g>
<g id="p4-ar"><text class="t" x="374" y="2007.2">1、排练节目为邀请家长参与学前班毕业典礼<tspan x="374" dy="9.33">作准备。</tspan></text><path class="u" d="M370.9 2022.1H524.3"/></g>
<g id="p4-as"><text class="t" x="443.2" y="2049">2、幼儿进行速算比赛。</text><path class="u" d="M439.1 2054.6H524.3"/></g>
<g id="p4-at"><text class="t" x="457.7" y="2081.2">3、学前班家长会。</text><path class="u" d="M453.6 2086.5H524.3"/></g>
<g id="p4-au"><text class="t" x="421.5" y="2113.1">4、组织学前班幼儿拍毕业照。</text><path class="u" d="M417.4 2118.8H524.3"/></g>
<g id="p4-av"><text class="t" x="392.6" y="2145.5">5、进行幼儿发展水平测查及评价工作。</text><path class="u" d="M388.5 2150.7H524.3"/></g>
<g id="p4-aw"><text class="t" x="421.5" y="2210.1">6、毕业典礼及班级工作总结。</text><path class="u" d="M417.4 2215.4H524.3"/></g>
<g id="p4-ax"><text class="t" x="363.7" y="2177.4">周工作安排</text><path class="u" d="M360.1 2183.1H405.5"/></g>
<g id="p4-ay"><text class="t" x="378.7" y="2210.1">二月份</text><path class="u" d="M374.5 2215.4H405.5"/></g>
<g id="p4-az"><text class="t" x="295.5" y="2242">第一，二周：（2/14——2/28）</text><path class="u" d="M291.9 2247.3H405.5"/></g>
<g id="p4-ba"><text class="t" x="374" y="2274.4">1、2/14日正常开展一日活动，稳定幼儿情绪<tspan x="374" dy="9.33">。</tspan></text><path class="u" d="M370.9 2289.3H524.3"/></g>
<g id="p4-bb"><text class="t" x="421.5" y="2315.9">2、各班统计未入园人及原因。</text><path class="u" d="M417.4 2321.6H524.3"/></g>
<g id="p4-bc"><text class="t" x="457.7" y="2347.8">3、安全工作汇报。</text><path class="u" d="M453.6 2353.5H524.3"/></g>
<g id="p4-bd"><text class="t" x="374" y="2380.1">4、做好幼儿上兴趣班动员工作，统计兴趣班<tspan x="374" dy="9.33">人数，规划兴趣班计划</tspan></text><path class="u" d="M370.9 2395H524.3"/></g>
<g id="p4-be"><text class="t" x="332.2" y="2389.3">三月份</text><path class="u" d="M328.6 2395H360.1"/></g>
<g id="p4-bf"><text class="t" x="444.3" y="2421.7">1、如何营造融洽的班级</text><path class="u" d="M440.7 2427.4H524.3"/></g>
<g id="p4-bg"><text class="t" x="421.5" y="2453.6">2、做好幼儿兴趣班报名工作。</text><path class="u" d="M417.4 2459.3H524.3"/></g>
<g id="p4-bh"><text class="t" x="406" y="2485.9">3、幼儿活动：庆祝"三.八"节活动。</text><path class="u" d="M402.4 2491.2H524.3"/></g>
<g id="p4-bi"><text class="t" x="392.6" y="2518.2">4、教师活动：外出踏青活动过三八节。</text><path class="u" d="M388.5 2523.5H524.3"/></g>
<g id="p4-bj"><text class="t" x="428.8" y="2550.1">5、抓好各班幼儿常规工作，</text><path class="u" d="M424.6 2555.8H524.3"/></g>
<g id="p4-bk"><text class="t" x="428.8" y="2582.5">6、期初各班幼儿测体重。）</text><path class="u" d="M424.6 2588.2H524.3"/></g>
<g id="p4-bl"><text class="t" x="407.1" y="2614.8">7、教师活动：组织教师外出听课。</text><path class="u" d="M403.5 2620.1H524.3"/></g>
<g id="p4-bm"><text class="t" x="377.6" y="2647.1">8、幼儿活动：小、中、大，学班绘画比赛。</text><path class="u" d="M373.5 2652.4H524.3"/></g>
<g id="p4-bn"><text class="t" x="457.7" y="2679">9、安全工作汇报。</text><path class="u" d="M453.6 2684.8H524.3"/></g>
<g id="p4-bo"><text class="t" x="415.3" y="2679">四月份</text><path class="u" d="M411.7 2684.8H444.3"/></g>
<g id="p4-bp"><text class="t" x="374" y="2711.5">1、幼儿活动：小、中、大，学各班早操比赛<tspan x="374" dy="9.33">。</tspan></text><path class="u" d="M370.9 2726H524.3"/></g>
<g id="p4-bq"><text class="t" x="450.5" y="2753.1">2、讨论家长会方案。</text><path class="u" d="M446.3 2758.3H524.3"/></g>
<g id="p4-br"><text class="t" x="428.8" y="2785">3、研讨：大班组好课活动。</text><path class="u" d="M424.6 2790.7H524.3"/></g>
<g id="p4-bs"><text class="t" x="399.3" y="2817.3">4、幼儿活动：中、大班讲故事比赛。</text><path class="u" d="M395.7 2823H524.3"/></g>
<g id="p4-bt"><text class="t" x="406.6" y="2849.7">5、幼儿活动：小班儿歌朗诵比赛。</text><path class="u" d="M402.4 2854.9H524.3"/></g>
<g id="p4-bu"><text class="t" x="406.6" y="2881.6">6、年级组活动：安全工作的研讨。</text><path class="u" d="M402.4 2887.3H524.3"/></g>
<g id="p4-bv"><text class="t" x="406.6" y="2913.9">7、教师活动：自制教玩具大比武。</text><path class="u" d="M402.4 2919.6H524.3"/></g>
<g id="p4-bw"><text class="t" x="384.9" y="2945.8">8、幼儿活动：小、中、大体育竞技比赛。</text><path class="u" d="M380.7 2951.5H524.3"/></g>
<g id="p4-bx"><text class="t" x="443.2" y="2978.1">9、庆祝五一国际劳动节</text><path class="u" d="M439.1 2983.8H524.3"/></g>
<g id="p4-by"><text class="t" x="400.9" y="2978.1">五月份</text><path class="u" d="M396.2 2983.8H426.2"/></g>
<g id="p4-bz"><text class="t" x="400.9" y="3010.5">1、幼儿活动：每班一个经典节目展示</text><path class="u" d="M396.7 3016.2H524.3"/></g>
<g id="p4-ca"><text class="t" x="406.6" y="3042.4">2、幼儿活动：经典节目强化训练。</text><path class="u" d="M402.4 3048.1H524.3"/></g>
<g id="p4-cb"><text class="t" x="378.7" y="3074.7">3、庆"六一儿童节"活动做筹备、组织工作。</text><path class="u" d="M374.5 3080.4H524.3"/></g>
<g id="p4-cc"><text class="t" x="335.8" y="3074.7">六月份</text><path class="u" d="M332.2 3080.4H370"/></g>
<g id="p4-cd"><text class="t" x="422.6" y="3107">1、幼儿活动：六。一文艺汇演</text><path class="u" d="M419 3112.7H524.3"/></g>
<g id="p4-ce"><text class="t" x="421.5" y="3138.9">2、教师如何做好幼儿离园工作</text><path class="u" d="M417.4 3144.7H524.3"/></g>
<g id="p4-cf"><text class="t" x="443.2" y="3171.3">3、各班撰写幼儿评语。</text><path class="u" d="M439.1 3177H524.3"/></g>
<g id="p4-cg"><text class="t" x="322.9" y="3171.3">4：如何处理与同事间的关系。</text><path class="u" d="M320.3 3177H426.2"/></g>
<g id="p4-ch"><text class="t" x="436" y="3203.6">5、学前班毕业典礼准备。</text><path class="u" d="M431.9 3208.9H524.3"/></g>
<g id="p4-ci"><text class="t" x="414.3" y="3236">6、做好幼儿素质发展期终评估。</text><path class="u" d="M410.7 3241.2H524.3"/></g>
<g id="p4-cj"><text class="t" x="457.7" y="3267.9">7、暑假安全教育。</text><path class="u" d="M453.6 3273.6H524.3"/></g>
<g id="p4-ck"><text class="t" x="450.5" y="3300.2">8、学前班毕业典礼。</text><path class="u" d="M446.3 3305.5H524.3"/></g>
</g>

<g id="p6">
<g id="p6-a"><text class="t" x="483" y="3472.4">一、树立强烈的渗透意识：</text><path class="u" d="M464.9 3478.1H573.4"/></g>
<g id="p6-b"><text class="t" x="316.2" y="3331.7">幼儿园一日生活及各个环节都渗透德育因素，<tspan x="316.2" dy="9.33">幼儿园中"时时有德育，处处有德育。"在教学</tspan><tspan x="316.2" dy="9.33">活动中，教师首先要树立德育渗透意识，不仅</tspan><tspan x="316.2" dy="9.33">注重给予幼儿发现的机会，发展幼儿的智力和</tspan><tspan x="316.2" dy="9.33">帮助幼儿掌握学科学的技能和方法等，而且还</tspan><tspan x="316.2" dy="9.33">关注幼儿积极情感和良好学习习惯和态度的培</tspan><tspan x="316.2" dy="9.33">养。因为积极的情感和良好的学习习惯和态度</tspan><tspan x="316.2" dy="9.33">能使整个认识过程积极化，没有情感色彩的认</tspan><tspan x="316.2" dy="9.33">知，便是僵死的，没有生命力的，没有良好的</tspan><tspan x="316.2" dy="9.33">学习习惯和态度更是失败的。因此，在掌握本</tspan><tspan x="316.2" dy="9.33">学科教育要求的同时，熟悉理解德育大纲的精</tspan><tspan x="316.2" dy="9.33">神实质，使德育大纲所提出的目标要求，结合</tspan><tspan x="316.2" dy="9.33">各科大纲的目标和要求分解、渗透到学期、月</tspan><tspan x="316.2" dy="9.33">、日及各个活动的具体计划中去，并根据这些</tspan><tspan x="316.2" dy="9.33">要求来设计活动，布置环境，使之有明确的目</tspan><tspan x="316.2" dy="9.33">的性、计划性。</tspan></text><path class="u" d="M312.5 3478.1H464.9"/></g>
<g id="p6-c"><text class="t" x="440.1" y="3713.3">二、提供一个"健康、和谐"的社会环境。</text><path class="u" d="M431.4 3719H573.4"/></g>
<g id="p6-d"><text class="t" x="273.8" y="3504.4">从幼儿心理学的角度来看，爱模仿是幼儿的年<tspan x="273.8" dy="9.33">龄特点，常常会听到幼儿为自己的言行辩解道</tspan><tspan x="273.8" dy="9.33">因此，我们除了为幼儿创设了一个良好的物质</tspan><tspan x="273.8" dy="9.33">环境外，还注重为幼儿提供一个良好的社会环</tspan><tspan x="273.8" dy="9.33">境。特别是我们的幼教工作人中时时处处为幼</tspan><tspan x="273.8" dy="9.33">儿树立良好的榜样，包括幼儿园全体工作人员</tspan><tspan x="273.8" dy="9.33">集体的团结、协作，教师的言语行动以及幼儿</tspan><tspan x="273.8" dy="9.33">中间的好人好事，都成为幼儿的良好榜样。</tspan></text><path class="u" d="M270.2 3576.3H423.6"/></g>
<g id="p6-e"><text class="t" x="307.4" y="3661.9">（一）对于我们的教师来说要做到：</text><path class="u" d="M293.4 3668.1H423.6"/></g>
<g id="p6-f"><text class="t" x="136.9" y="3602.1">第一， 有爱心，充满感情地去爱每个幼儿，<tspan x="136.9" dy="9.33">尊重班上那些淘气、各种能力显露较迟、胆小</tspan><tspan x="136.9" dy="9.33">懦弱幼儿的要求和心理；</tspan></text><path class="u" d="M133.3 3626.8H286.7"/></g>
<g id="p6-g"><text class="t" x="136.9" y="3653.1">第二， 师生共同参加活动，以教师的积极性<tspan x="136.9" dy="9.33">、兴趣性诱发幼儿的愉快情绪；</tspan></text><path class="u" d="M133.3 3668.1H286.7"/></g>
<g id="p6-h"><text class="t" x="136.9" y="3694.7">第三，凡是要求幼儿做到的，自己首先做到，<tspan x="136.9" dy="9.33">一言一行，做幼儿的表率。</tspan></text><path class="u" d="M133.3 3709.3H286.7"/></g>
<g id="p6-i"><text class="t" x="279" y="3855.5">（二）本学期我班幼儿须达到的德育目标是：</text><path class="u" d="M265 3861.2H423.6"/></g>
<g id="p6-j"><text class="t" x="107.5" y="3736">1、对人有礼貌，会使用礼貌用语，会说普通<tspan x="107.5" dy="9.33">话；</tspan></text><path class="u" d="M103.3 3751H257.3"/></g>
<g id="p6-k"><text class="t" x="107.5" y="3777.2">2、能与同伴合作完成工作，合作时不争抢、<tspan x="107.5" dy="9.33">不排挤，学会谦让；</tspan></text><path class="u" d="M103.3 3792.7H257.3"/></g>
<g id="p6-l"><text class="t" x="107.5" y="3818.9">3、能判断日常事件的对与错，有初步的是非<tspan x="107.5" dy="9.33">观；</tspan></text><path class="u" d="M103.3 3833.9H257.3"/></g>
<g id="p6-m"><text class="t" x="110.6" y="3860.6">4、懂得尊重劳动者，尊重长辈，尊重同伴；</text><path class="u" d="M106.4 3865.8H257.3"/></g>
<g id="p6-n"><text class="t" x="132.2" y="3892.5">5、热爱集体，有初步的集体荣誉感；</text><path class="u" d="M128.1 3898.3H257.3"/></g>
<g id="p6-o"><text class="t" x="107.5" y="3925">6、爱护花草，爱护公共财物，在公共场合不<tspan x="107.5" dy="9.33">喧哗；</tspan></text><path class="u" d="M103.3 3940H257.3"/></g>
<g id="p6-p"><text class="t" x="111.6" y="3966.2">7、参加活动时不怕困难，胜不骄，败不馁。</text><path class="u" d="M106.4 3971.9H257.3"/></g>
</g>

<g id="p5">
<g id="p5-a"><text class="t" x="1043.3" y="2082.1">一、班级情况分析</text><path class="u" d="M1038.1 2086.9H1115.6"/></g>
<g id="p5-b"><text class="t" x="1122.3" y="2054.1">虽我班幼儿人数较少，但幼儿普遍年龄偏小，<tspan x="1122.3" dy="9.33">均为3岁左右，且有大部分为初次上幼儿园，</tspan><tspan x="1122.3" dy="9.33">所以根据我班幼儿的年龄特点制定了本期德育</tspan><tspan x="1122.3" dy="9.33">计划。</tspan></text><path class="u" d="M1118.2 2086.9H1270.6"/></g>
<g id="p5-c"><text class="t" x="1043.3" y="2235.1">二、工作目标</text><path class="u" d="M1038.1 2240.8H1097.5"/></g>
<g id="p5-d"><text class="t" x="1107.4" y="2114.4">1、萌发幼儿的爱心，从爱周围的人开始，培<tspan x="1107.4" dy="9.33">养幼儿爱父母、爱师长，以及爱伙伴；进行初</tspan><tspan x="1107.4" dy="9.33">步的集体观念教育，萌发幼儿的集体荣誉感和</tspan><tspan x="1107.4" dy="9.33">爱幼儿园、爱怀化、爱祖国的情感。</tspan></text><path class="u" d="M1102.7 2148.1H1256.1"/></g>
<g id="p5-e"><text class="t" x="1107.4" y="2174.3">2、养成初步的生活习惯和卫生习惯，能遵守<tspan x="1107.4" dy="9.33">生活作息制度，不挑食、不偏食，早睡早起。</tspan><tspan x="1107.4" dy="9.33">有自我保护意识，不玩危险物品，遵守交通规</tspan><tspan x="1107.4" dy="9.33">则，有病及时告诉成人，配合治疗。养成初步</tspan><tspan x="1107.4" dy="9.33">的礼貌和守纪习惯，会使用简单的礼貌用语，</tspan><tspan x="1107.4" dy="9.33">不打人、骂人，与同伴能友好相处，乐意帮助</tspan><tspan x="1107.4" dy="9.33">同伴，遇事能谦让。培养初步的劳动兴趣，知</tspan><tspan x="1107.4" dy="9.33">道自己能做的事应该自己做；</tspan></text><path class="u" d="M1102.7 2245.1H1256.1"/></g>
<g id="p5-f"><text class="t" x="1107.4" y="2272.2">3、培养健康、稳定的情绪和活泼开朗、热情<tspan x="1107.4" dy="9.33">大方的性格，有同情心、宽容心，能原谅、谅</tspan><tspan x="1107.4" dy="9.33">解别人，能积极、主动地和小朋友交往；喜爱</tspan><tspan x="1107.4" dy="9.33">体育运动和艺术活动，有独立做事的愿望，自</tspan><tspan x="1107.4" dy="9.33">己能做的事不依赖别人帮助，有一定的灵活性</tspan><tspan x="1107.4" dy="9.33">和机智性。诚实，不说谎，做错事能承认并改</tspan><tspan x="1107.4" dy="9.33">正。</tspan></text><path class="u" d="M1102.7 2333.4H1256.1"/></g>
<g id="p5-g"><text class="t" x="1043.3" y="2674.2">三、工作内容</text><path class="u" d="M1038.1 2680H1097.5"/></g>
<g id="p5-h"><text class="t" x="1107.4" y="2360.5">1、爱集体教育。喜欢上幼儿园，在集体中保<tspan x="1107.4" dy="9.33">持愉快稳定的情绪。在老师的要求下，能关心</tspan><tspan x="1107.4" dy="9.33">爱护班上的东西。在成人鼓励下，能愉快地参</tspan><tspan x="1107.4" dy="9.33">加幼儿园各项活动，习惯集体生活。能与同伴</tspan><tspan x="1107.4" dy="9.33">分享玩具。能熟悉本班幼儿的姓名。</tspan></text><path class="u" d="M1102.7 2403.8H1256.1"/></g>
<g id="p5-i"><text class="t" x="1107.4" y="2430">2、爱劳动教育。知道幼儿园老师和父母工作<tspan x="1107.4" dy="9.33">很辛苦，愿意学做事，不事事依赖他人。要自</tspan><tspan x="1107.4" dy="9.33">己吃饭、穿衣服、上厕所，学会正确使用玩具</tspan><tspan x="1107.4" dy="9.33">、图书以及学习用具的使用方法。能按要求自</tspan><tspan x="1107.4" dy="9.33">己摆放小椅子。爱护玩具，不乱丢果皮，不损</tspan><tspan x="1107.4" dy="9.33">坏东西，节约用水，洗手时不玩水。</tspan></text><path class="u" d="M1102.7 2482H1256.1"/></g>
<g id="p5-j"><text class="t" x="1107.4" y="2509.1">3、爱家乡、爱祖国教育。知道自己是中国人<tspan x="1107.4" dy="9.33">，中国好，认识国旗，知道升旗、唱国歌时要</tspan><tspan x="1107.4" dy="9.33">立正。知道自己的家乡是怀化，爱家乡的环境</tspan><tspan x="1107.4" dy="9.33">和周围的人。</tspan></text><path class="u" d="M1102.7 2542.3H1256.1"/></g>
<g id="p5-k"><text class="t" x="1107.4" y="2569.4">4、爱学习的教育。喜欢参加集体活动，在老<tspan x="1107.4" dy="9.33">师和家长的提醒、帮助下，能选择活动内容，</tspan><tspan x="1107.4" dy="9.33">有初步的规则意识。经过努力完成一项任务后</tspan><tspan x="1107.4" dy="9.33">感到很高兴。了解一年四季的变化，观察四季</tspan><tspan x="1107.4" dy="9.33">植物的生长。</tspan></text><path class="u" d="M1102.7 2612.2H1256.1"/></g>
<g id="p5-l"><text class="t" x="1107.4" y="2638.8">5、生活习惯的教育。注意保持手、脸部的清<tspan x="1107.4" dy="9.33">洁，会用正确的方法洗手、洗脸。会用勺子吃</tspan><tspan x="1107.4" dy="9.33">饭，养成按时进餐、饭后漱口、擦嘴、不挑食</tspan><tspan x="1107.4" dy="9.33">的习惯。不把手指、玩具放入口中，不玩刀、</tspan><tspan x="1107.4" dy="9.33">剪、玻璃等利器，生病时愿意去医疗看病，打</tspan><tspan x="1107.4" dy="9.33">针、吃药时不哭。</tspan></text><path class="u" d="M1102.7 2690.9H1256.1"/></g>
<g id="p5-m"><text class="t" x="1107.4" y="2717.7">6、文明礼貌教育。在成人提醒下，每天早上<tspan x="1107.4" dy="9.33">向父母问好，道再见，见到老师会站好。会正</tspan><tspan x="1107.4" dy="9.33">确使用请、谢谢、对不起、没关系、再见等礼</tspan><tspan x="1107.4" dy="9.33">貌用语，见到长辈、同伴、熟人会主动问好。</tspan><tspan x="1107.4" dy="9.33">能有礼貌地做小客人，不随便乱翻别人的东西</tspan><tspan x="1107.4" dy="9.33">。能与同伴友好相处，不打人骂人，不故意扰</tspan><tspan x="1107.4" dy="9.33">乱别人。</tspan></text><path class="u" d="M1102.7 2778.4H1256.1"/></g>
<g id="p5-n"><text class="t" x="1107.4" y="2806">7、遵守纪律教育。知道幼儿园的玩具应该大<tspan x="1107.4" dy="9.33">家一起玩，轮流玩，初步做到不争抢、不独占</tspan><tspan x="1107.4" dy="9.33">玩具。爱护玩具，用完后整理好并放回原处。</tspan><tspan x="1107.4" dy="9.33">知道应遵守各项生活常规和活动常规，在老师</tspan><tspan x="1107.4" dy="9.33">提醒下做到三轻：走路轻、说话轻、取放东西</tspan><tspan x="1107.4" dy="9.33">轻。</tspan></text><path class="u" d="M1102.7 2858H1256.1"/></g>
<g id="p5-o"><text class="t" x="1107.4" y="2884.6">8、良好的个性心理品质的教育。经常保持活<tspan x="1107.4" dy="9.33">泼愉快的情绪，不爱哭，不随便发脾气，能合</tspan><tspan x="1107.4" dy="9.33">群。愿意做好孩子，自己有事或有要求，能对</tspan><tspan x="1107.4" dy="9.33">成人说，在成人的要求下能完成一些任务。不</tspan><tspan x="1107.4" dy="9.33">纠缠成人，会独立游戏。敢于向老师及家人说</tspan><tspan x="1107.4" dy="9.33">出自己的想法和要求，克服胆怯心理，敢大胆</tspan><tspan x="1107.4" dy="9.33">当众表演、讲话，有自信心。能在成人帮助下</tspan><tspan x="1107.4" dy="9.33">进行自我评价。</tspan></text><path class="u" d="M1102.7 2955.4H1256.1"/></g>
<g id="p5-p"><text class="t" x="1043.3" y="3012.2">四、具体措施：</text><path class="u" d="M1038.1 3017.5H1101.2"/></g>
<g id="p5-q"><text class="t" x="1114.6" y="2982.5">充分发挥幼儿园的品德教育中的主渠道作用。</text><path class="u" d="M1110.5 2987.8H1262.9"/></g>
<g id="p5-r"><text class="t" x="1114.6" y="3014.4">渗透各科、寓教于戏、寓教于乐：各科教学从<tspan x="1114.6" dy="9.33">内容到方法上都可以渗透品德教育。让幼儿在</tspan><tspan x="1114.6" dy="9.33">语言、音乐、美术、体育、游戏和做做玩玩中</tspan><tspan x="1114.6" dy="9.33">接受内容丰富多样的品德教育。</tspan></text><path class="u" d="M1110.5 3048.1H1262.9"/></g>
</g>

<g id="p7">
<g id="p7-a"><text class="t" x="1042.3" y="3585">本学期德育教育目标和要求制定如下：</text><path class="u" d="M1038.1 3590.2H1172.5"/></g>
<g id="p7-b"><text class="t" x="1186.9" y="3166.9">一、进行礼貌待人，讲文明、守纪律的教育</text><path class="u" d="M1182.8 3172.6H1335.2"/></g>
<g id="p7-c"><text class="t" x="1346.5" y="3074.7">主动有礼貌地称呼自己所接近的人，并主动热<tspan x="1346.5" dy="9.33">情使用礼貌用语。根据各班实际，对幼儿进行</tspan><tspan x="1346.5" dy="9.33">遵守班级常规及文明行为的教育。</tspan></text><path class="u" d="M1341.9 3098.8H1494.3"/></g>
<g id="p7-d"><text class="t" x="1346.5" y="3125.8">尊敬长辈，愿意为他们做事。</text><path class="u" d="M1341.9 3131.5H1443.7"/></g>
<g id="p7-e"><text class="t" x="1346.5" y="3157.7">1、能主动地遵守本班和幼儿园的各项规则，<tspan x="1346.5" dy="9.33">能够控制自己的行为。</tspan></text><path class="u" d="M1341.9 3172.6H1494.3"/></g>
<g id="p7-f"><text class="t" x="1346.5" y="3199.3">2、能够遵守公共场所的秩序和卫生要求，如<tspan x="1346.5" dy="9.33">不随地吐痰，不折花草等。</tspan></text><path class="u" d="M1341.9 3214.6H1494.3"/></g>
<g id="p7-g"><text class="t" x="1346.5" y="3241.2">3、离开集体或家长要打招呼。</text><path class="u" d="M1341.9 3246.5H1447.8"/></g>
<g id="p7-h"><text class="t" x="1186.9" y="3344.3">二、有目的、有计划地培养幼儿具有友爱谦让<tspan x="1186.9" dy="9.33">，诚实的优良品质</tspan></text><path class="u" d="M1182.8 3359.7H1340.4"/></g>
<g id="p7-i"><text class="t" x="1352.7" y="3273.1">1、培养幼儿对同伴友爱相处，说话和气，关<tspan x="1352.7" dy="9.33">心小朋友，愿意帮助比自己小的有困难的小弟</tspan><tspan x="1352.7" dy="9.33">弟、小妹妹。</tspan></text><path class="u" d="M1348.1 3297.6H1502"/></g>
<g id="p7-j"><text class="t" x="1352.7" y="3323.8">2、逐步学会自己解决彼此之间的纠纷。发生<tspan x="1352.7" dy="9.33">争执，讲道理，不动手、不骂人、不欺负小朋</tspan><tspan x="1352.7" dy="9.33">友。</tspan></text><path class="u" d="M1348.1 3347.9H1502"/></g>
<g id="p7-k"><text class="t" x="1352.7" y="3375.1">3、相信自己的力量，做事有信心，学会自我<tspan x="1352.7" dy="9.33">保护。</tspan></text><path class="u" d="M1348.1 3389.7H1502"/></g>
<g id="p7-l"><text class="t" x="1352.7" y="3416.4">4、讲实话，做错了事敢承认。</text><path class="u" d="M1348.1 3422.1H1455.6"/></g>
<g id="p7-m"><text class="t" x="1186.9" y="3540.5">三、爱父母、爱教师、爱集体</text><path class="u" d="M1182.8 3546.2H1291.3"/></g>
<g id="p7-n"><text class="t" x="1302.1" y="3448.8">1、九月十日"教师节，对孩子进行爱老师、阿<tspan x="1302.1" dy="9.33">姨教育活动。</tspan></text><path class="u" d="M1298 3463.3H1451.4"/></g>
<g id="p7-o"><text class="t" x="1302.1" y="3490">2、知道老师工作辛苦。能尊敬老师，帮助老<tspan x="1302.1" dy="9.33">师，听从老师教导。</tspan></text><path class="u" d="M1298 3505H1451.4"/></g>
<g id="p7-p"><text class="t" x="1302.1" y="3531.7">3、"国庆节"，对孩子进行爱祖国，爱家乡教<tspan x="1302.1" dy="9.33">育活动。</tspan></text><path class="u" d="M1298 3546.2H1451.4"/></g>
<g id="p7-q"><text class="t" x="1302.1" y="3573.4">4、知道自己是集体一员，积极主动参加集体<tspan x="1302.1" dy="9.33">活动。在活动中进一步培养集体感、道德情感</tspan><tspan x="1302.1" dy="9.33">。</tspan></text><path class="u" d="M1298 3597.2H1451.4"/></g>
<g id="p7-r"><text class="t" x="1302.1" y="3624.3">5、有初步的集体荣誉感。</text><path class="u" d="M1298 3629.6H1389.4"/></g>
<g id="p7-s"><text class="t" x="1186.9" y="3697.5">四、培养幼儿具有积极情绪、主动精神和活泼<tspan x="1186.9" dy="9.33">开朗的性格</tspan></text><path class="u" d="M1182.8 3712.5H1340.4"/></g>
<g id="p7-t"><text class="t" x="1352.7" y="3656.3">1、积极主动和小朋友交往。培养幼儿对周围<tspan x="1352.7" dy="9.33">的事情感兴趣，敢于说出自己的想法。</tspan></text><path class="u" d="M1348.1 3670.8H1502"/></g>
<g id="p7-u"><text class="t" x="1352.7" y="3697.5">2、积极愉快参加班内、园内的各项活动，引<tspan x="1352.7" dy="9.33">导幼儿自由表现自己的兴趣和爱好。</tspan></text><path class="u" d="M1348.1 3712.5H1502"/></g>
<g id="p7-v"><text class="t" x="1352.7" y="3738.7">3、教育幼儿能原谅别的小朋友的缺点的错误<tspan x="1352.7" dy="9.33">，不耻笑别人。</tspan></text><path class="u" d="M1348.1 3754.2H1502"/></g>
<g id="p7-w"><text class="t" x="1186.9" y="3827.2">五、进一步扩大幼儿的社会生活接触面，使他<tspan x="1186.9" dy="9.33">们获得社会的最初印象。向他们进行革命史教</tspan><tspan x="1186.9" dy="9.33">育，激发他们热爱祖国、热爱人民、热爱社会</tspan><tspan x="1186.9" dy="9.33">主义的情感萌芽</tspan></text><path class="u" d="M1182.8 3860.3H1340.4"/></g>
<g id="p7-x"><text class="t" x="1352.7" y="3780.4">1、他们讲解祖国物产、领他们观察祖国的河<tspan x="1352.7" dy="9.33">山，给民族、革命传统、社会主义建设的成就</tspan><tspan x="1352.7" dy="9.33">，认识国旗、国徽、国歌、首都北京。有初步</tspan><tspan x="1352.7" dy="9.33">的爱国观念和爱国情感。</tspan></text><path class="u" d="M1348.1 3814H1502"/></g>
<g id="p7-y"><text class="t" x="1352.7" y="3841.1">2、了解先烈事迹，初步懂得学先进、爱模范<tspan x="1352.7" dy="9.33">。</tspan></text><path class="u" d="M1348.1 3856.1H1502"/></g>
<g id="p7-z"><text class="t" x="1352.7" y="3882.3">3、了解我国和当地习惯，知道一些节日，如<tspan x="1352.7" dy="9.33">儿童节、妇女节、劳动节等，通过节日活动产</tspan><tspan x="1352.7" dy="9.33">生对劳动者的尊敬，激发爱国情感。</tspan></text><path class="u" d="M1348.1 3906.6H1502"/></g>
<g id="p7-aa"><text class="t" x="1186.9" y="3975">六、运用符合幼儿思想特点的生动、形象方法<tspan x="1186.9" dy="9.33">，向儿童讲解一些简单的现实中常见的事理，</tspan><tspan x="1186.9" dy="9.33">提高他们的道德认识，使幼儿能获得最起码的</tspan><tspan x="1186.9" dy="9.33">是非观念。</tspan></text><path class="u" d="M1182.8 4008H1340.4"/></g>
<g id="p7-ab"><text class="t" x="1352.7" y="3933.3">1、具有初步评价别人的行为，愿意学习同伴<tspan x="1352.7" dy="9.33">的优点，不讥笑别人的缺点和缺陷；自己有进</tspan><tspan x="1352.7" dy="9.33">步不骄傲，愿意克服缺点。</tspan></text><path class="u" d="M1348.1 3957.5H1502"/></g>
<g id="p7-ac"><text class="t" x="1352.7" y="3984.2">2、初步分清好与坏、是与非、正确与错误、<tspan x="1352.7" dy="9.33">真与假、美与丑、善与恶。学习好的榜样，不</tspan><tspan x="1352.7" dy="9.33">学不模仿不良行为。</tspan></text><path class="u" d="M1348.1 4008H1502"/></g>
<g id="p7-ad"><text class="t" x="1352.7" y="4035.2">3、要把培养幼儿道德情感、训练道德行为习<tspan x="1352.7" dy="9.33">惯与形成道德观念紧密结合起来，努力实现幼</tspan><tspan x="1352.7" dy="9.33">儿园思想品德培养目标和要求。</tspan></text><path class="u" d="M1348.1 4059H1502"/></g>
</g>
</svg>
